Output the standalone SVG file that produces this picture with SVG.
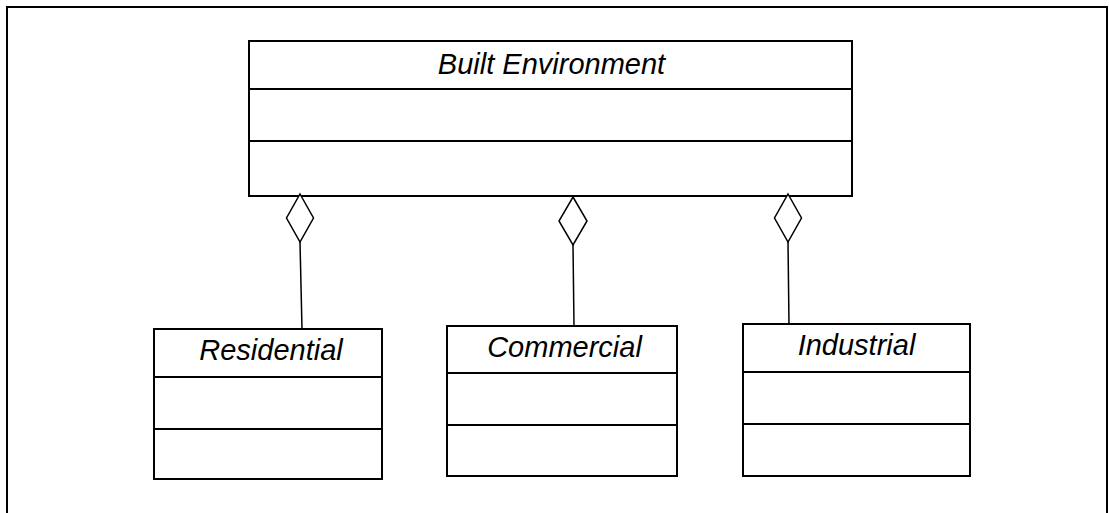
<svg xmlns="http://www.w3.org/2000/svg" width="1109" height="513" viewBox="0 0 1109 513">
<style>
.box{fill:#fff;stroke:#000;stroke-width:2}
.div{stroke:#000;stroke-width:2}
.lbl{font-family:"Liberation Sans",Arial,sans-serif;font-style:italic;font-size:29px;fill:#000;text-anchor:middle}
.conn{stroke:#000;stroke-width:1.5;fill:none}
.dia{fill:#fff;stroke:#000;stroke-width:1.5}
</style>
<rect x="0" y="0" width="1109" height="513" fill="#fff"/>
<rect x="7" y="7" width="1100" height="520" fill="none" stroke="#000" stroke-width="2"/>
<g id="built-environment">
<rect class="box" x="249" y="41" width="603" height="155"/>
<line class="div" x1="249" y1="89" x2="852" y2="89"/>
<line class="div" x1="249" y1="141" x2="852" y2="141"/>
<text class="lbl" x="551.5" y="74">Built Environment</text>
</g>
<g id="residential">
<rect class="box" x="154" y="329" width="228" height="150"/>
<line class="div" x1="154" y1="377" x2="382" y2="377"/>
<line class="div" x1="154" y1="429" x2="382" y2="429"/>
<text class="lbl" x="271" y="360">Residential</text>
</g>
<g id="commercial">
<rect class="box" x="447" y="326" width="230" height="150"/>
<line class="div" x1="447" y1="373" x2="677" y2="373"/>
<line class="div" x1="447" y1="425" x2="677" y2="425"/>
<text class="lbl" x="564.5" y="357">Commercial</text>
</g>
<g id="industrial">
<rect class="box" x="743" y="324" width="227" height="152"/>
<line class="div" x1="743" y1="372" x2="970" y2="372"/>
<line class="div" x1="743" y1="424" x2="970" y2="424"/>
<text class="lbl" x="856.5" y="355">Industrial</text>
</g>
<g id="connectors">
<line class="conn" x1="300" y1="242" x2="302" y2="329"/>
<polygon class="dia" points="300,194 313.5,218 300,242 286.5,218"/>
<line class="conn" x1="573" y1="245" x2="574" y2="326"/>
<polygon class="dia" points="573,197 587,221 573,245 559,221"/>
<line class="conn" x1="788" y1="242" x2="789" y2="324"/>
<polygon class="dia" points="788,194 801.5,218 788,242 774.5,218"/>
</g>
</svg>
